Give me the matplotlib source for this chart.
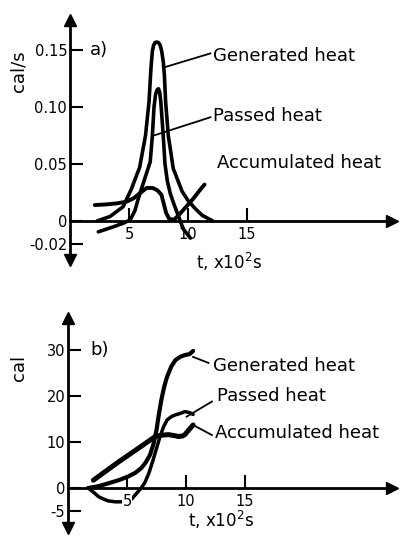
import matplotlib
matplotlib.use('Agg')
import matplotlib.pyplot as plt

plt.rcParams['font.family'] = ['DejaVu Sans']
plt.rcParams['axes.unicode_minus'] = False

# ---------------- data: panel a (heat rates, cal/s vs t x10^2 s) ----------------
a_gen_t = [2.3, 3.4, 4.5, 5.2, 5.9, 6.4, 6.7, 6.86, 6.98, 7.08, 7.2, 7.34, 7.5, 7.65, 7.77, 7.9,
           8.0, 8.1, 8.33, 8.75, 9.2, 9.5, 10.0, 10.6, 11.2, 12.1]
a_gen_y = [0.0, 0.004, 0.0125, 0.028, 0.047, 0.075, 0.105, 0.134, 0.149, 0.154, 0.1565, 0.157,
           0.1565, 0.154, 0.149, 0.14, 0.128, 0.105, 0.075, 0.046, 0.034, 0.026, 0.018, 0.011,
           0.005, 0.0]

a_pas_t = [2.4, 3.7, 4.5, 5.1, 5.5, 5.8, 6.3, 6.8, 6.98, 7.12, 7.25, 7.38, 7.5, 7.6, 7.7, 7.9,
           8.05, 8.25, 8.5, 8.8, 9.2, 9.6, 10.2]
a_pas_y = [-0.0095, -0.005, -0.002, 0.001, 0.009, 0.02, 0.036, 0.052, 0.075, 0.1, 0.111,
           0.115, 0.116, 0.113, 0.104, 0.075, 0.05, 0.035, 0.024, 0.015, 0.004, -0.007, -0.015]

a_acc_t = [2.1, 3.0, 4.0, 4.8, 5.4, 6.0, 6.5, 7.0, 7.4, 7.75, 7.95, 8.15, 8.4, 8.8, 9.2, 9.8,
           10.4, 11.0, 11.4]
a_acc_y = [0.014, 0.0145, 0.0155, 0.017, 0.02, 0.025, 0.029, 0.029, 0.027, 0.023, 0.015, 0.007,
           0.002, 0.001, 0.005, 0.012, 0.019, 0.027, 0.032]

a_yticks = [-0.02, 0, 0.05, 0.10, 0.15]
a_ylabels = ['-0.02', '0', '0.05', '0.10', '0.15']

# ---------------- data: panel b (integrated heat, cal) ----------------
b_gen_t = [1.7, 2.6, 3.4, 4.3, 5.1, 5.7, 6.2, 6.6, 6.95, 7.25, 7.5, 7.7, 7.9, 8.15, 8.4, 8.75,
           9.1, 9.5, 9.9, 10.3, 10.6]
b_gen_y = [0, 0.4, 1.0, 1.7, 2.5, 3.3, 4.3, 5.6, 7.2, 9.6, 12.6, 16.0, 19.0, 22.0, 24.2, 26.4,
           27.8, 28.5, 28.9, 29.1, 29.8]

b_pas_t = [1.7, 2.2, 2.6, 3.0, 3.4, 4.0, 4.8, 5.4, 5.8, 6.2, 6.5, 6.85, 7.2, 7.5, 7.8, 8.1,
           8.4, 8.75, 9.1, 9.5, 9.9, 10.3, 10.6]
b_pas_y = [0, -1.0, -1.9, -2.4, -2.8, -3.0, -3.0, -2.4, -1.2, 0.0, 1.1, 3.2, 6.0, 8.6, 11.2,
           13.3, 14.8, 15.5, 15.9, 16.2, 16.6, 16.4, 16.0]

b_acc_t = [2.15, 4.3, 6.0, 7.4, 8.0, 8.5, 9.0, 9.35, 9.7, 9.9, 10.3, 10.6]
b_acc_y = [1.7, 5.7, 8.7, 11.2, 11.5, 11.6, 11.4, 11.2, 11.3, 11.6, 12.8, 13.7]

b_yticks = [-5, 0, 10, 20, 30]
b_ylabels = ['-5', '0', '10', '20', '30']

xticks = [5, 10, 15]
xlabels = ['5', '10', '15']

# ---------------- figure ----------------
W, H = 400, 548
fig = plt.figure(figsize=(W / 100, H / 100), dpi=100)


def px_axes(left, right, top, bottom):
    return fig.add_axes([left / W, 1 - bottom / H, (right - left) / W, (bottom - top) / H])


def style(ax, yticks, ylabels, mask_labels):
    ax.set_axisbelow(False)
    for s in ('top', 'right'):
        ax.spines[s].set_visible(False)
    ax.spines['bottom'].set_position(('data', 0))
    for s in ('left', 'bottom'):
        ax.spines[s].set_linewidth(2.0)
    ax.plot(1, 0, '>k', ms=8, transform=ax.get_yaxis_transform(), clip_on=False)
    ax.plot(0, 1, '^k', ms=8, transform=ax.get_xaxis_transform(), clip_on=False)
    ax.plot(0, 0, 'vk', ms=8, transform=ax.get_xaxis_transform(), clip_on=False)
    ax.set_xticks(xticks)
    ax.set_xticklabels(xlabels)
    ax.set_yticks(yticks)
    ax.set_yticklabels(ylabels)
    ax.tick_params(axis='both', direction='in', length=9.5, width=1.5, labelsize=10.5)
    ax.tick_params(axis='y', pad=2)
    ax.tick_params(axis='x', pad=4)
    if mask_labels:
        for lab in ax.get_xticklabels():
            lab.set_bbox(dict(facecolor='white', edgecolor='none', pad=0.3))


lead = dict(color='k', lw=1.3)
fs = 13
curve = dict(color='k', solid_joinstyle='round', solid_capstyle='round')

# ---- panel a ----
axa = px_axes(70, 392, 20, 260)
axa.set_xlim(0, (392 - 70) / 11.8)
axa.set_ylim((221 - 260) / 1140, (221 - 20) / 1140)
style(axa, a_yticks, a_ylabels, False)
axa.plot(a_gen_t, a_gen_y, lw=2.6, **curve)
axa.plot(a_pas_t, a_pas_y, lw=2.6, **curve)
axa.plot(a_acc_t, a_acc_y, lw=2.8, **curve)
axa.plot([8.05, 11.9], [0.135, 0.147], **lead)
axa.plot([7.1, 11.9], [0.075, 0.091], **lead)
axa.text(12.1, 0.1406, 'Generated heat', fontsize=fs, va='baseline')
axa.text(12.1, 0.0877, 'Passed heat', fontsize=fs, va='baseline')
axa.text(12.45, 0.0468, 'Accumulated heat', fontsize=fs, va='baseline')
axa.text(1.7, 0.150, 'a)', fontsize=fs, va='center')

# ---- panel b ----
axb = px_axes(68, 392, 318, 528)
axb.set_xlim(0, (392 - 68) / 11.8)
axb.set_ylim((488 - 528) / 4.6, (488 - 318) / 4.6)
style(axb, b_yticks, b_ylabels, True)
axb.plot(b_gen_t, b_gen_y, lw=3.0, **curve)
axb.plot(b_pas_t, b_pas_y, lw=2.5, **curve)
axb.plot(b_acc_t, b_acc_y, lw=3.6, **curve)
axb.plot([10.6, 11.9], [28.5, 27.2], **lead)
axb.plot([10.05, 12.2], [15.5, 18.8], **lead)
axb.plot([10.6, 12.2], [13.7, 11.5], **lead)
axb.text(12.3, 25.4, 'Generated heat', fontsize=fs, va='baseline')
axb.text(12.63, 18.9, 'Passed heat', fontsize=fs, va='baseline')
axb.text(12.46, 10.8, 'Accumulated heat', fontsize=fs, va='baseline')
axb.text(1.86, 30.0, 'b)', fontsize=fs, va='center')

# ---- axis titles ----
fig.text(19 / W, 1 - 71 / H, 'cal/s', rotation=90, fontsize=13, ha='center', va='center')
fig.text(19 / W, 1 - 368 / H, 'cal', rotation=90, fontsize=13, ha='center', va='center')
fig.text(229 / W, 1 - 262 / H, 't, x10$^2$s', fontsize=12, ha='center', va='center')
fig.text(221 / W, 1 - 520 / H, 't, x10$^2$s', fontsize=12, ha='center', va='center')

fig.savefig('out.png', dpi=100)
